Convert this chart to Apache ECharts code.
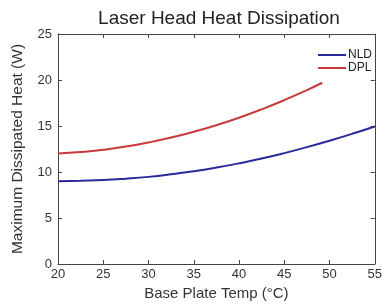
<!DOCTYPE html>
<html>
<head>
<meta charset="utf-8">
<script src="https://cdn.jsdelivr.net/npm/echarts@6/dist/echarts.min.js"></script>
<style>
  html, body { margin: 0; padding: 0; background: #fff; }
  #chart { width: 385px; height: 306px; }
</style>
</head>
<body>
<div id="chart"></div>
<script>
// base plate temperature (°C) and dissipated heat (W)
const nldTemps = [20, 22.5, 25, 27.5, 30, 32.5, 35, 37.5, 40, 42.5, 45, 47.5, 50, 52.5, 55]
const nldHeat = [9.0, 9.05, 9.12, 9.27, 9.47, 9.75, 10.08, 10.48, 10.94, 11.46, 12.05, 12.7, 13.4, 14.15, 14.95]
const dplTemps = [20, 22.5, 25, 27.5, 30, 32.5, 35, 37.5, 40, 42.5, 45, 47.5, 49.2]
const dplHeat = [12.0, 12.17, 12.42, 12.76, 13.21, 13.74, 14.37, 15.09, 15.9, 16.81, 17.81, 18.9, 19.7]
const xTicks = [20, 55, 5]   // min, max, step
const yTicks = [0, 25, 5]

const font = 'Liberation Sans, Arial, sans-serif'
const pair = (xs, ys) => xs.map((x, i) => [x, ys[i]])

var myChart = echarts.init(document.getElementById('chart'), null, { renderer: 'canvas' })

// 边框四周都有刻度,所以上/右各加一条没有标签的轴
const axisLine = { show: true, onZero: false, lineStyle: { color: '#444', width: 1 } }
const tick = { show: true, inside: true, length: 4, lineStyle: { color: '#444' } }

var option = {
  animation: false,
  title: {
    text: 'Laser Head Heat Dissipation',
    left: 214, top: 4, textAlign: 'center',
    textStyle: { fontFamily: font, fontSize: 19, fontWeight: 'normal', color: '#222' }
  },
  legend: {
    orient: 'vertical',
    right: 8, top: 44,
    itemWidth: 28, itemHeight: 2, itemGap: 1,
    icon: 'rect',
    textStyle: { fontFamily: font, fontSize: 12, lineHeight: 12, color: '#222', padding: [0, 0, 0, -3] },
    data: ['NLD', 'DPL']
  },
  grid: { left: 58, right: 7, top: 34, bottom: 37 },
  xAxis: [
    {
      type: 'value', min: xTicks[0], max: xTicks[1], interval: xTicks[2],
      name: 'Base Plate Temp (°C)', nameLocation: 'middle', nameGap: 22,
      nameTextStyle: { fontFamily: font, fontSize: 15, color: '#333' },
      axisLine, axisTick: tick, splitLine: { show: false },
      axisLabel: { fontFamily: font, fontSize: 13, color: '#333', margin: 4 }
    },
    {
      type: 'value', position: 'top', min: xTicks[0], max: xTicks[1], interval: xTicks[2],
      axisLine, axisTick: tick, splitLine: { show: false }, axisLabel: { show: false }
    }
  ],
  yAxis: [
    {
      type: 'value', min: yTicks[0], max: yTicks[1], interval: yTicks[2],
      name: 'Maximum Dissipated Heat (W)', nameLocation: 'middle', nameGap: 32,
      nameTextStyle: { fontFamily: font, fontSize: 15.5, color: '#333' },
      axisLine, axisTick: tick, splitLine: { show: false },
      axisLabel: { fontFamily: font, fontSize: 13, color: '#333', margin: 6 }
    },
    {
      type: 'value', position: 'right', min: yTicks[0], max: yTicks[1], interval: yTicks[2],
      axisLine, axisTick: tick, splitLine: { show: false }, axisLabel: { show: false }
    }
  ],
  series: [
    {
      name: 'NLD', type: 'line', smooth: true, symbol: 'none',
      lineStyle: { color: '#2a2a9c', width: 2 }, itemStyle: { color: '#2a2a9c' },
      data: pair(nldTemps, nldHeat)
    },
    {
      name: 'DPL', type: 'line', smooth: true, symbol: 'none',
      lineStyle: { color: '#c83a3a', width: 2 }, itemStyle: { color: '#c83a3a' },
      data: pair(dplTemps, dplHeat)
    }
  ]
}

myChart.setOption(option)
</script>
</body>
</html>
